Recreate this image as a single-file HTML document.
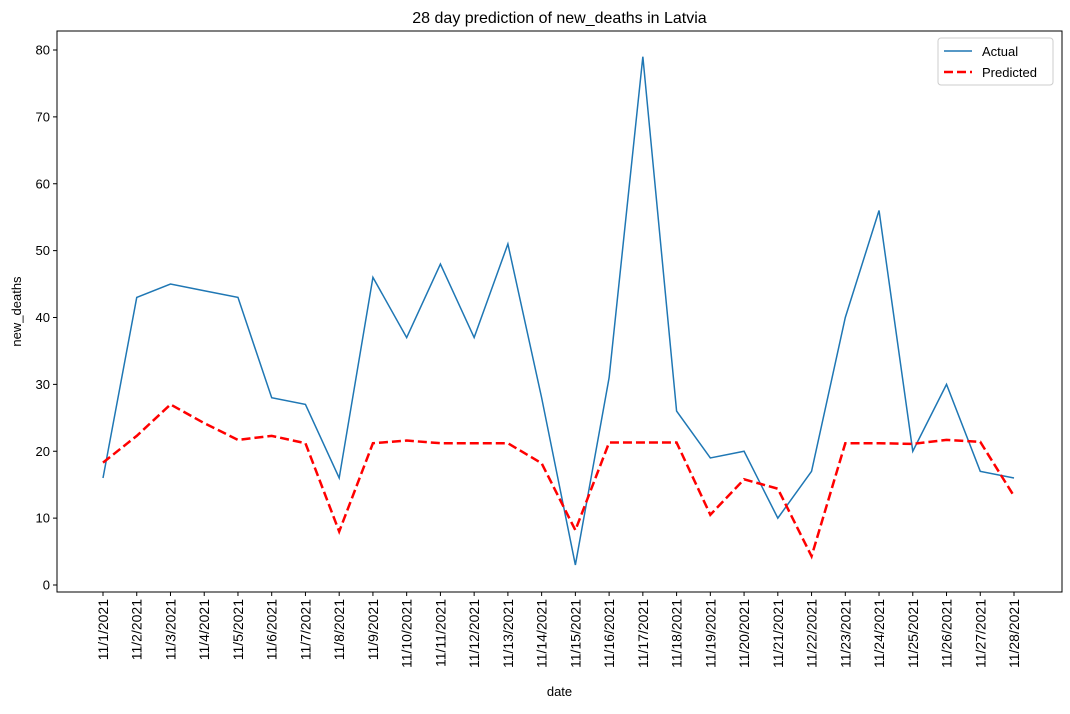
<!DOCTYPE html>
<html><head><meta charset="utf-8"><style>
body{margin:0;background:#fff;font-family:"Liberation Sans",sans-serif}
svg text{font-family:"Liberation Sans",sans-serif;fill:#000}
</style></head><body>
<svg id="chart" width="1070" height="709" xmlns="http://www.w3.org/2000/svg"></svg>
<script>
const dates=["11/1/2021","11/2/2021","11/3/2021","11/4/2021","11/5/2021","11/6/2021","11/7/2021","11/8/2021","11/9/2021","11/10/2021","11/11/2021","11/12/2021","11/13/2021","11/14/2021","11/15/2021","11/16/2021","11/17/2021","11/18/2021","11/19/2021","11/20/2021","11/21/2021","11/22/2021","11/23/2021","11/24/2021","11/25/2021","11/26/2021","11/27/2021","11/28/2021"];
const actual=[16,43,45,44,43,28,27,16,46,37,48,37,51,28,3,31,79,26,19,20,10,17,40,56,20,30,17,16];
const predicted=[18.3,22.3,27,24.2,21.7,22.3,21.2,8,21.2,21.6,21.2,21.2,21.2,18.2,8.2,21.3,21.3,21.3,10.5,15.8,14.4,4.3,21.2,21.2,21.1,21.7,21.4,13.3];
const yTicks=[0,10,20,30,40,50,60,70,80];
const svg=document.getElementById('chart');
const NS="http://www.w3.org/2000/svg";
const L=57,R=1062,T=31,B=592;
const x=i=>103+i*(1014-103)/(dates.length-1);
const y=v=>585-v*(535/80);
function mk(tag,attrs,parent){const e=document.createElementNS(NS,tag);for(const k in attrs)e.setAttribute(k,attrs[k]);(parent||svg).appendChild(e);return e;}
const frame=mk('rect',{x:L,y:T,width:R-L,height:B-T,fill:'none',stroke:'#000','stroke-width':1});


yTicks.forEach(v=>{
  const g=mk('g',{});
  
  
  mk('line',{x1:L-4,x2:L,y1:y(v),y2:y(v),stroke:'#000'},g);
  const t=mk('text',{x:L-7,y:y(v)+4.5,'text-anchor':'end','font-size':13},g);t.textContent=v;
});
dates.forEach((d,i)=>{
  const g=mk('g',{});
  
  
  mk('line',{x1:x(i),x2:x(i),y1:B,y2:B+4,stroke:'#000'},g);
  const t=mk('text',{x:0,y:0,'text-anchor':'end','font-size':14,transform:`translate(${x(i)+5},${B+7}) rotate(-90)`},g);t.textContent=d;
});
const pa=mk('polyline',{points:actual.map((v,i)=>x(i)+','+y(v)).join(' '),fill:'none',stroke:'#1f77b4','stroke-width':1.5});


const pp=mk('polyline',{points:predicted.map((v,i)=>x(i)+','+y(v)).join(' '),fill:'none',stroke:'#ff0000','stroke-width':2.5,'stroke-dasharray':'9,4'});


const title=mk('text',{x:(L+R)/2,y:23,'text-anchor':'middle','font-size':16});title.textContent='28 day prediction of new_deaths in Latvia';


const xl=mk('text',{x:(L+R)/2,y:696,'text-anchor':'middle','font-size':13});xl.textContent='date';


const yl=mk('text',{x:0,y:0,'text-anchor':'middle','font-size':13,transform:`translate(21,${(T+B)/2}) rotate(-90)`});yl.textContent='new_deaths';


const lg=mk('g',{});


mk('rect',{x:938,y:38,width:115,height:47,rx:3,fill:'#fff',stroke:'#ccc'},lg);
mk('line',{x1:944,x2:972,y1:51,y2:51,stroke:'#1f77b4','stroke-width':1.5},lg);
const t1=mk('text',{x:982,y:56,'font-size':13},lg);t1.textContent='Actual';
mk('line',{x1:944,x2:972,y1:72,y2:72,stroke:'#ff0000','stroke-width':2.5,'stroke-dasharray':'9,4'},lg);
const t2=mk('text',{x:982,y:77,'font-size':13},lg);t2.textContent='Predicted';
</script>
</body></html>
